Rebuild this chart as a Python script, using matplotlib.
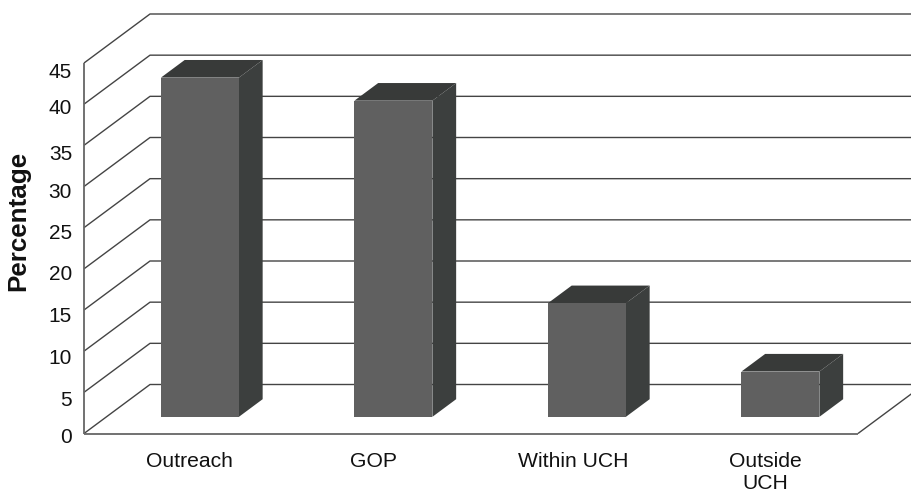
# pseudo 3D bar chart, excel style
import matplotlib
matplotlib.use('Agg')
import matplotlib.pyplot as plt
from matplotlib.patches import Polygon

categories = ['Outreach', 'GOP', 'Within UCH', 'Outside\nUCH']
values = [41.2, 38.4, 13.8, 5.5]
yticks = [0, 5, 10, 15, 20, 25, 30, 35, 40, 45]

W, H = 912, 493
# front plane in pixels
left, right, bottom, top = 84, 858, 433.5, 63
# full depth of the box, in data units
depth_x = 66 / ((right - left) / 4)
depth_y = 49 / ((bottom - top) / 45)
bar_w = 0.403
# the labels in the original are not quite evenly placed
label_x = [0.545, 1.497, 2.53, 3.52]
tick_nudge = [0.5, 1.05, 0.9, 0.85, 0.65, 0.75, 0.75, 1.15, 0.55, 1.1]

plt.rcParams['font.family'] = ['Liberation Sans', 'DejaVu Sans']
fig = plt.figure(figsize=(W / 100, H / 100), dpi=100)
ax = fig.add_axes([left / W, 1 - bottom / H, (right - left) / W, (bottom - top) / H])
ax.set_xlim(0, 4)
ax.set_ylim(0, 45)
ax.axis('off')


def pt(x, y, d):
  # d = 0 at front plane, 1 at back wall
  return (x + d * depth_x, y + d * depth_y)


line = dict(color='#444444', lw=1.0, clip_on=False, solid_capstyle='butt')
axis_line = dict(color='#666666', lw=1.3, clip_on=False, solid_capstyle='butt')
# gridlines: across the side wall and back wall
for i, v in enumerate(yticks):
  a, b, c = pt(0, v, 0), pt(0, v, 1), pt(4, v, 1)
  ax.plot([a[0], b[0], c[0]], [a[1], b[1], c[1]], **line)
  ax.text(-0.062, v - tick_nudge[i], str(v), ha='right', va='center', fontsize=15, color='#111111', clip_on=False)
ax.plot([0, 0], [0, 45], **axis_line)
# floor
a, b = pt(4, 0, 0), pt(4, 0, 1)
ax.plot([0, 4], [0, 0], **axis_line)
ax.plot([4, b[0]], [0, b[1]], **line)

# bars
d0, d1 = 0.34, 0.70
for i, v in enumerate(values):
  x0 = i + 0.483 - bar_w / 2
  x1 = x0 + bar_w
  front = [pt(x0, 0, d0), pt(x1, 0, d0), pt(x1, v, d0), pt(x0, v, d0)]
  side = [pt(x1, 0, d0), pt(x1, 0, d1), pt(x1, v, d1), pt(x1, v, d0)]
  lid = [pt(x0, v, d0), pt(x1, v, d0), pt(x1, v, d1), pt(x0, v, d1)]
  ax.add_patch(Polygon(side, closed=True, fc='#3c3f3e', ec='none', zorder=3, clip_on=False))
  ax.add_patch(Polygon(lid, closed=True, fc='#383a39', ec='none', zorder=3, clip_on=False))
  ax.add_patch(Polygon(front, closed=True, fc='#606060', ec='none', zorder=4, clip_on=False))
  ax.text(label_x[i], -2.2, categories[i], ha='center', va='top', fontsize=15.2, color='#111111',
          linespacing=1.25, clip_on=False)

ax.text(-0.34, 25.8, 'Percentage', rotation=90, ha='center', va='center', fontsize=18.7,
        fontweight='bold', color='#111111', clip_on=False)

plt.savefig('out.png', dpi=100)
